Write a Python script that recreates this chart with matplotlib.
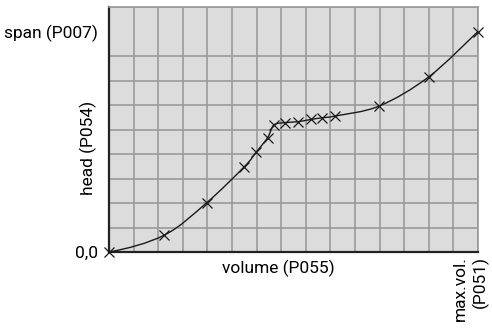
import numpy as np
import matplotlib.pyplot as plt
from matplotlib.path import Path
from matplotlib.patches import PathPatch

# characteristic curve points (volume, head) in grid units
volume = [0.0, 2.25, 3.97, 5.5, 5.98, 6.45, 6.7, 7.15, 7.7, 8.2, 8.67, 9.19, 10.99, 13.0, 15.0]
head = [0.0, 0.69, 2.01, 3.48, 4.07, 4.67, 5.18, 5.28, 5.32, 5.41, 5.48, 5.55, 5.96, 7.15, 9.0]

y_labels = ['0,0', 'span (P007)']
y_label_pos = [0, 9]
n_cols = 15
n_rows = 10

plt.rcParams['font.family'] = ['Roboto', 'DejaVu Sans']

grid_col = '#9a9a9a'
bg_col = '#dcdcdc'
fs = 12.5


def smooth_path(xs, ys):
    # catmull-rom segments turned into cubic bezier pieces for Path
    pts = np.column_stack([xs, ys])
    verts = [pts[0]]
    codes = [Path.MOVETO]
    for i in range(len(pts) - 1):
        p1 = pts[i]
        p2 = pts[i + 1]
        if i > 0:
            p0 = pts[i - 1]
        else:
            # flatter start at the origin
            p0 = p1 - (p2 - p1) * np.array([1.0, 0.2])
        p3 = pts[i + 2] if i + 2 < len(pts) else pts[i + 1]
        c1 = p1 + (p2 - p0) / 6.0
        c2 = p2 - (p3 - p1) / 6.0
        verts += [c1, c2, p2]
        codes += [Path.CURVE4] * 3
    return Path(verts, codes)


fig = plt.figure(figsize=(4.92, 3.29), dpi=100)
ax = fig.add_axes([109 / 492, 77 / 329, 369 / 492, 245 / 329])
ax.set_facecolor(bg_col)
ax.set_xlim(0, n_cols)
ax.set_ylim(0, n_rows)

ax.set_xticks(range(n_cols + 1), minor=True)
ax.set_yticks(range(n_rows + 1), minor=True)
ax.set_xticks([])
ax.set_yticks(y_label_pos)
ax.set_yticklabels(y_labels, fontsize=fs)
ax.grid(which='minor', color=grid_col, linewidth=1.2)
ax.set_axisbelow(True)
ax.tick_params(which='both', length=0)
ax.tick_params(axis='y', pad=8)

for s in ['top', 'right']:
    ax.spines[s].set_color(grid_col)
    ax.spines[s].set_linewidth(1.2)
for s in ['left', 'bottom']:
    ax.spines[s].set_color('#222222')
    ax.spines[s].set_linewidth(1.6)

ax.add_patch(PathPatch(smooth_path(volume, head), fill=False, edgecolor='#1a1a1a', lw=1.0, zorder=3))
ax.plot(volume, head, linestyle='none', marker='x', color='#1a1a1a', markersize=6.5,
        markeredgewidth=0.9, clip_on=False, zorder=4)

ax.text(-0.85, 4.25, 'head (P054)', rotation=90, ha='center', va='center', fontsize=fs)
ax.text(6.9, -0.3, 'volume (P055)', ha='center', va='top', fontsize=fs)
ax.text(14.72, -0.15, 'max.vol.\n(P051)', rotation=90, ha='center', va='top',
        multialignment='right', fontsize=fs, linespacing=1.3)

fig.savefig('out.png', dpi=100)
